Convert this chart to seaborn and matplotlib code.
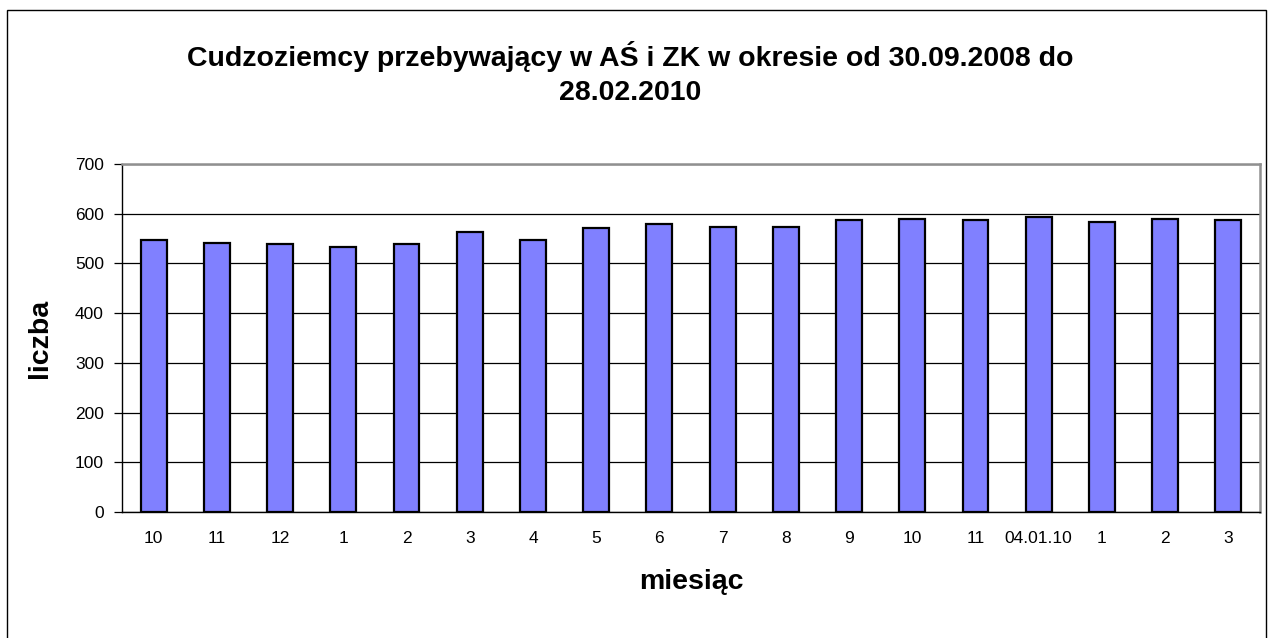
import numpy as np
import pandas as pd
import matplotlib
matplotlib.use("Agg")
import matplotlib.pyplot as plt
import seaborn as sns
from matplotlib.patches import Rectangle

months = ["10", "11", "12", "1", "2", "3", "4", "5", "6", "7", "8", "9",
          "10", "11", "04.01.10", "1", "2", "3"]
counts = [548, 542, 539, 533, 539, 563, 547, 571, 580, 574, 574, 588,
          590, 587, 594, 584, 589, 587]

df = pd.DataFrame({"pos": range(len(months)), "liczba": counts})

sns.set_style("white")
plt.rcParams["font.family"] = ["Liberation Sans", "DejaVu Sans"]
plt.rcParams["text.color"] = "black"
plt.rcParams["axes.labelcolor"] = "black"
plt.rcParams["xtick.color"] = "black"
plt.rcParams["ytick.color"] = "black"

fig = plt.figure(figsize=(12.74, 6.38), dpi=100)
ax = fig.add_axes([122 / 1274, 1 - 512 / 638, (1260 - 122) / 1274, (512 - 164) / 638])

sns.barplot(data=df, x="pos", y="liczba", color="#8080FF", saturation=1,
            width=0.41, edgecolor="black", linewidth=1.6, ax=ax)

ax.set_ylim(0, 700)
ax.set_xlim(-0.5, len(months) - 0.5)
ax.set_yticks(range(0, 701, 100))
ax.yaxis.grid(True, color="black", linewidth=0.9)
ax.set_axisbelow(True)

ax.set_xticks(range(len(months)), months)
ax.set_xticks(np.arange(-0.5, len(months)), minor=True)
ax.tick_params(axis="x", which="major", length=0, pad=14, labelsize=12.5)
ax.tick_params(axis="x", which="minor", length=10, direction="inout", width=0.9)
ax.tick_params(axis="y", length=6, direction="out", width=0.9, left=True, pad=7, labelsize=12.5)

for s in ["left", "bottom"]:
    ax.spines[s].set_color("black")
    ax.spines[s].set_linewidth(1.0)
for s in ["top", "right"]:
    ax.spines[s].set_color("#909090")
    ax.spines[s].set_linewidth(1.8)

ax.set_xlabel("miesiąc", fontsize=20.5, fontweight="bold", labelpad=16)
ax.set_ylabel("liczba", fontsize=20.5, fontweight="bold", labelpad=16)

fig.text(630 / 1274, 1 - 73 / 638,
         "Cudzoziemcy przebywający w AŚ i ZK w okresie od 30.09.2008 do\n28.02.2010",
         ha="center", va="center", fontsize=20.5, fontweight="bold", linespacing=1.4)

fig.patches.append(Rectangle((7 / 1274, -0.05), (1266 - 7) / 1274, 1.05 - 10 / 638,
                             transform=fig.transFigure, fill=False,
                             edgecolor="black", linewidth=1.0))

fig.savefig("out.png", dpi=100)
